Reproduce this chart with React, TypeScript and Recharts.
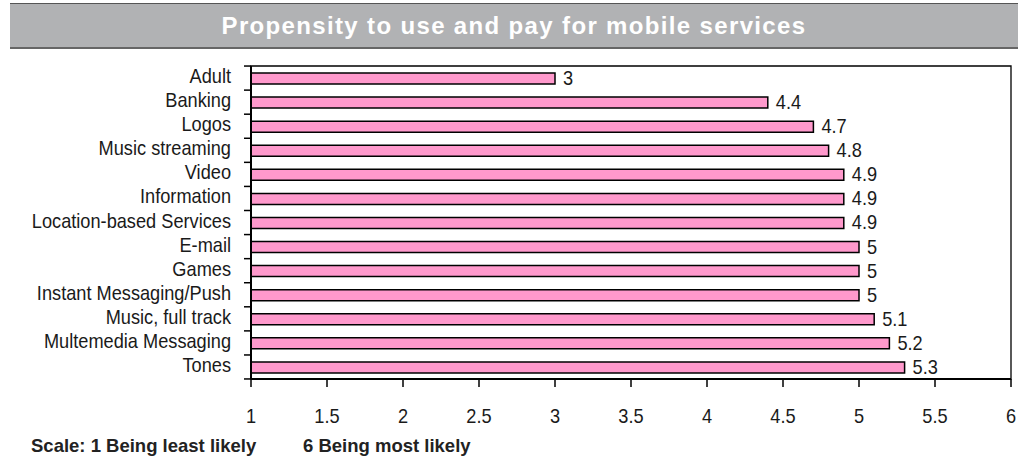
import React from 'react';
import { BarChart, Bar, XAxis, YAxis, LabelList, ReferenceArea } from 'recharts';

const categories = [
  'Adult',
  'Banking',
  'Logos',
  'Music streaming',
  'Video',
  'Information',
  'Location-based Services',
  'E-mail',
  'Games',
  'Instant Messaging/Push',
  'Music, full track',
  'Multemedia Messaging',
  'Tones',
];
const scores = [3, 4.4, 4.7, 4.8, 4.9, 4.9, 4.9, 5, 5, 5, 5.1, 5.2, 5.3];
const xTicks = [1, 1.5, 2, 2.5, 3, 3.5, 4, 4.5, 5, 5.5, 6];
const titleText = 'Propensity to use and pay for mobile services';
const footLeft = 'Scale: 1 Being least likely';
const footRight = '6 Being most likely';

const data = categories.map((name, i) => ({ name, value: scores[i] }));

const SANS = '"Liberation Sans", Arial, sans-serif';
const BAND = 24;
const FS = 20;
const SX = 0.91;

const Narrow = ({ x, y, anchor, children }: any) => (
  <text
    transform={`translate(${x},${y}) scale(${SX},1)`}
    x={0}
    y={0}
    textAnchor={anchor}
    fontFamily={SANS}
    fontSize={FS}
    fill="#1a1a1a"
  >
    {children}
  </text>
);

const YTick = (props: any) => {
  const { x, y, payload, index } = props;
  const last = index === categories.length - 1;
  return (
    <g>
      <line x1={x - 7} x2={x} y1={y - BAND / 2} y2={y - BAND / 2} stroke="#000" strokeWidth={1.5} />
      {last && <line x1={x - 7} x2={x} y1={y + BAND / 2} y2={y + BAND / 2} stroke="#000" strokeWidth={1.5} />}
      <Narrow x={x - 20} y={y + 5} anchor="end">
        {payload.value}
      </Narrow>
    </g>
  );
};

const XTick = (props: any) => {
  const { x, y, payload } = props;
  return (
    <Narrow x={x} y={y + 14} anchor="middle">
      {payload.value}
    </Narrow>
  );
};

const ValueLabel = (props: any) => {
  const { x, y, width, height, value } = props;
  return (
    <Narrow x={Number(x) + Number(width) + 8} y={Number(y) + Number(height) / 2 + 6.5} anchor="start">
      {value}
    </Narrow>
  );
};

export default function App() {
  return (
    <div style={{ position: 'absolute', left: 0, top: 0, width: 1034, height: 463, background: '#fff' }}>
      <div
        style={{
          position: 'absolute',
          left: 10,
          top: 3,
          width: 1008,
          height: 43,
          background: '#b1b2b4',
          borderTop: '1px solid #555',
          borderBottom: '2px solid #666',
          display: 'flex',
          alignItems: 'center',
          justifyContent: 'center',
          color: '#fff',
          fontFamily: SANS,
          fontWeight: 'bold',
          fontSize: 24,
          letterSpacing: 1.35,
        }}
      >
        {titleText}
      </div>
      <div style={{ position: 'absolute', left: 0, top: 0 }}>
        <BarChart
          width={1034}
          height={463}
          data={data}
          layout="vertical"
          margin={{ top: 66, right: 23, bottom: 24, left: 11 }}
          barSize={11}
        >
          <XAxis
            type="number"
            domain={[1, 6]}
            ticks={xTicks}
            interval={0}
            height={60}
            tickSize={8}
            tickMargin={22}
            axisLine={{ stroke: '#000', strokeWidth: 2 }}
            tickLine={{ stroke: '#000', strokeWidth: 1.5 }}
            tick={<XTick />}
          />
          <YAxis
            type="category"
            dataKey="name"
            width={240}
            interval={0}
            tickSize={0}
            tickMargin={0}
            tickLine={false}
            axisLine={{ stroke: '#000', strokeWidth: 2 }}
            tick={<YTick />}
          />
          <ReferenceArea x1={1} x2={6} fill="none" fillOpacity={0} stroke="#000" strokeWidth={1.3} />
          <Bar dataKey="value" fill="#ff99cc" stroke="#000" strokeWidth={1.5} isAnimationActive={false}>
            <LabelList dataKey="value" content={<ValueLabel />} />
          </Bar>
        </BarChart>
      </div>
      <div
        style={{
          position: 'absolute',
          left: 31,
          top: 435,
          fontFamily: SANS,
          fontWeight: 'bold',
          fontSize: 18.5,
          color: '#222',
          whiteSpace: 'nowrap',
        }}
      >
        {footLeft}
      </div>
      <div
        style={{
          position: 'absolute',
          left: 303,
          top: 435,
          fontFamily: SANS,
          fontWeight: 'bold',
          fontSize: 18.5,
          color: '#222',
          whiteSpace: 'nowrap',
        }}
      >
        {footRight}
      </div>
    </div>
  );
}
